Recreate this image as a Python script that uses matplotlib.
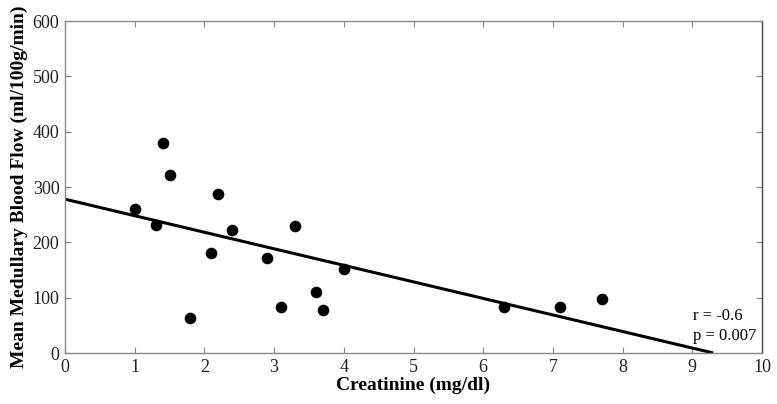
import matplotlib
matplotlib.use("Agg")
import matplotlib.pyplot as plt

creatinine = [1.0, 1.3, 1.4, 1.5, 1.8, 2.1, 2.2, 2.4, 2.9, 3.1, 3.3, 3.6, 3.7, 4.0, 6.3, 7.1, 7.7]
blood_flow = [260, 231, 379, 321, 63, 180, 287, 222, 171, 83, 230, 111, 78, 152, 84, 84, 98]
fit_x = [0.0, 9.3]
fit_y = [278, 0]
x_ticks = [0, 1, 2, 3, 4, 5, 6, 7, 8, 9, 10]
y_ticks = [0, 100, 200, 300, 400, 500, 600]

plt.rcParams['font.family'] = ['Liberation Serif', 'DejaVu Serif']

fig = plt.figure(figsize=(7.77, 4.04), dpi=100)
ax = fig.add_axes([65/777, 1 - 353/404, (762-65)/777, (353-21)/404])

ax.scatter(creatinine, blood_flow, s=70, color='black', zorder=3, linewidths=0)
ax.plot(fit_x, fit_y, color='black', lw=2.2, zorder=2, solid_capstyle='butt')

ax.set_xlim(0, 10)
ax.set_ylim(0, 600)
ax.set_xticks(x_ticks)
ax.set_yticks(y_ticks)
ax.tick_params(direction='in', top=True, right=True, length=4, width=0.8,
               labelsize=13, colors='#888888', labelcolor='#222222', pad=4)
for side in ['left', 'top', 'bottom']:
    ax.spines[side].set_color('#888888')
ax.spines['right'].set_color('#444444')
for s in ax.spines.values():
    s.set_linewidth(1.0)

ax.set_xlabel('Creatinine (mg/dl)', fontsize=14, fontweight='bold', labelpad=1)
ax.set_ylabel('Mean Medullary Blood Flow (ml/100g/min)', fontsize=14, fontweight='bold', labelpad=3)

ax.text(0.901, 0.11, 'r = -0.6', transform=ax.transAxes, fontsize=12, va='center', ha='left')
ax.text(0.901, 0.052, 'p = 0.007', transform=ax.transAxes, fontsize=12, va='center', ha='left')

fig.savefig('out.png', dpi=100)
